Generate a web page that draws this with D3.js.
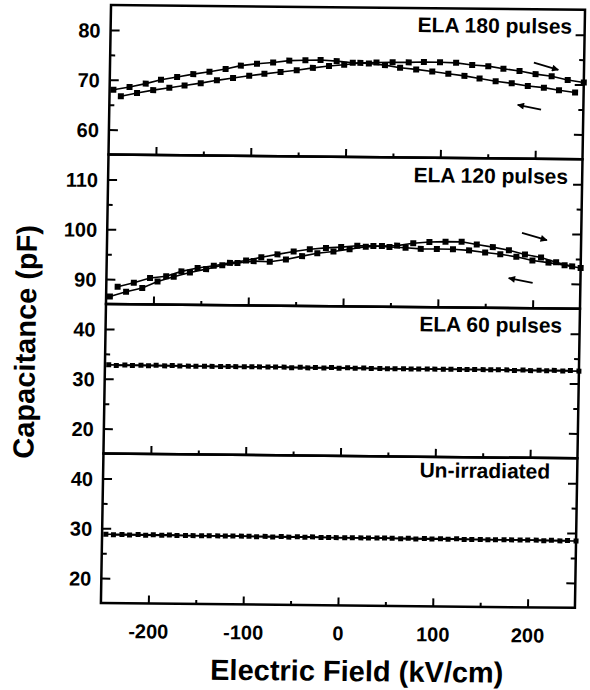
<!DOCTYPE html>
<html><head><meta charset="utf-8">
<script src="https://cdn.jsdelivr.net/npm/d3@7"></script>
<style>
html,body{margin:0;padding:0;background:#fff;}
svg text{font-family:"Liberation Sans",Arial,Helvetica,sans-serif;font-weight:bold;fill:#000;}
</style></head><body>
<svg id="chart" width="590" height="690"></svg>
<script>
// ---- data ----
const fieldA = [-246,-229,-212,-196,-179,-162,-145,-128,-112,-95,-78,-61,-44,-28,-11,6,23,40,56,73,90,107,124,140,157,174,191,208,224,241];
const fieldB = [-238,-221,-204,-187,-171,-154,-137,-120,-103,-87,-70,-53,-36,-19,-3,14,31,48,65,81,98,115,132,149,165,182,199,216,233,250];

const ela180Down = [68.0,68.6,69.3,70.1,70.7,71.3,71.8,72.4,73.1,73.5,73.8,74.2,74.3,74.4,74.2,73.9,73.8,73.5,73.0,72.7,72.3,71.9,71.5,71.0,70.5,70.1,69.6,69.3,68.8,68.4];
const ela180Up   = [66.7,67.4,68.0,68.5,69.0,69.5,70.1,70.6,71.1,71.5,71.9,72.3,72.8,73.2,73.5,73.9,74.0,74.1,74.1,74.2,74.2,74.1,73.7,73.5,73.0,72.6,72.0,71.6,70.9,70.4];

const ela120Up   = [86.5,87.5,88.3,89.6,90.6,91.5,92.2,93.0,93.5,93.9,93.8,94.3,95.0,95.6,96.0,96.5,97.0,97.2,97.3,97.8,98.1,98.2,98.2,97.7,97.2,96.6,95.8,95.2,94.3,93.5];
const ela120Down = [88.5,89.3,90.3,90.7,91.7,92.4,92.9,93.5,94.0,94.7,95.3,95.9,96.4,96.7,96.9,97.2,97.2,97.0,96.9,96.7,96.7,96.7,96.5,96.1,95.8,95.3,94.6,94.2,93.7,93.2];

const ela60Up    = [32.8,32.8,32.8,32.8,32.8,32.7,32.7,32.7,32.7,32.7,32.7,32.7,32.7,32.7,32.7,32.7,32.7,32.6,32.6,32.6,32.6,32.6,32.6,32.6,32.6,32.6,32.6,32.6,32.6,32.6];
const ela60Down  = [32.7,32.7,32.7,32.7,32.7,32.7,32.7,32.7,32.7,32.7,32.7,32.6,32.6,32.6,32.6,32.6,32.6,32.6,32.6,32.6,32.6,32.6,32.6,32.6,32.6,32.5,32.5,32.5,32.5,32.5];

const unirrUp    = [28.8,28.8,28.8,28.8,28.8,28.7,28.7,28.7,28.7,28.7,28.7,28.7,28.7,28.7,28.6,28.6,28.6,28.6,28.6,28.6,28.6,28.6,28.6,28.5,28.5,28.5,28.5,28.5,28.5,28.5];
const unirrDown  = [28.7,28.7,28.7,28.7,28.7,28.7,28.7,28.7,28.7,28.6,28.6,28.6,28.6,28.6,28.6,28.6,28.6,28.6,28.5,28.5,28.5,28.5,28.5,28.5,28.5,28.5,28.5,28.4,28.4,28.4];

const panelLabels = ["ELA 180 pulses","ELA 120 pulses","ELA 60 pulses","Un-irradiated"];
const yDomains = [[55,85],[85,115],[15,45],[15,45]];
const yMajorTicks = [[60,70,80],[90,100,110],[20,30,40],[20,30,40]];
const yMinorTicks = [[65,75],[95,105],[25,35],[25,35]];
const xDomain = [-250,250];
const xMajorTicks = [-200,-100,0,100,200];
const xMinorTicks = [-150,-50,50,150];
const xTitle = "Electric Field (kV/cm)";
const yTitle = "Capacitance (pF)";

// sweep arrows, in data units: [fromField, fromCap, toField, toCap]
const arrows180 = [[197,74.3,222.9,72.9],[205.4,64.9,180.7,65.8]];
const arrows120 = [[187.5,100.1,213.9,98.7],[199.6,90.1,174.3,91.0]];

const panels = [
  {label: panelLabels[0], series: [{f: fieldA, c: ela180Down}, {f: fieldB, c: ela180Up}], arrows: arrows180},
  {label: panelLabels[1], series: [{f: fieldA, c: ela120Up}, {f: fieldB, c: ela120Down}], arrows: arrows120},
  {label: panelLabels[2], series: [{f: fieldA, c: ela60Up}, {f: fieldB, c: ela60Down}], arrows: []},
  {label: panelLabels[3], series: [{f: fieldA, c: unirrUp}, {f: fieldB, c: unirrDown}], arrows: []}
];

// ---- layout ----
const L = 106, R = 580, T = 7.4, PH = 149.5, W = R - L;
const labelPos = [[12.6,24],[14.1,24.6],[17.5,24.1],[27,20.6]];
const markerSize = [6,6,5,5];
const plain = d => String(d);   // hyphen-minus like the original

const svg = d3.select("#chart");
const defs = svg.append("defs");
defs.append("marker").attr("id","ah").attr("markerUnits","userSpaceOnUse")
  .attr("viewBox","0 0 10 10").attr("refX",9).attr("refY",5)
  .attr("markerWidth",9).attr("markerHeight",7).attr("orient","auto")
  .append("path").attr("d","M0,0 L10,5 L0,10 z").attr("fill","#000");

// slight scan skew of the original figure
const root = svg.append("g").attr("transform","matrix(1,0.0102,-0.0169,1,5.15,-3.49)");

const x = d3.scaleLinear().domain(xDomain).range([0, W]);

panels.forEach((p, i) => {
  const g = root.append("g").attr("transform", `translate(${L},${T + i * PH})`);
  const y = d3.scaleLinear().domain(yDomains[i]).range([PH, 0]);

  const tickAxes = [
    [d3.axisTop(x).tickValues(xMajorTicks).tickSize(8), `translate(0,${PH})`],
    [d3.axisTop(x).tickValues(xMinorTicks).tickSize(4), `translate(0,${PH})`],
    [d3.axisRight(y).tickValues(yMajorTicks[i]).tickSize(9), null],
    [d3.axisRight(y).tickValues(yMinorTicks[i]).tickSize(5), null],
    [d3.axisLeft(y).tickValues(yMajorTicks[i]).tickSize(9), `translate(${W},0)`],
    [d3.axisLeft(y).tickValues(yMinorTicks[i]).tickSize(5), `translate(${W},0)`]
  ];
  tickAxes.forEach(([ax, tr]) => {
    const a = g.append("g").call(ax.tickFormat(""));
    if (tr) a.attr("transform", tr);
    a.select(".domain").remove();
    a.selectAll("line").attr("stroke", "#000").attr("stroke-width", 2);
  });

  // y tick labels
  const yl = g.append("g").call(d3.axisLeft(y).tickValues(yMajorTicks[i]).tickFormat(plain).tickSize(0).tickPadding(10));
  yl.select(".domain").remove();
  yl.attr("font-size", null).attr("font-family", null);
  yl.selectAll("text").style("font-size", "20px").attr("dy", "0.36em");

  if (i === panels.length - 1) {
    const xl = g.append("g").attr("transform", `translate(0,${PH})`)
      .call(d3.axisBottom(x).tickValues(xMajorTicks).tickFormat(plain).tickSize(0).tickPadding(0));
    xl.select(".domain").remove();
    xl.attr("font-size", null).attr("font-family", null);
    xl.selectAll("text").style("font-size", "20px").attr("dy", null).attr("y", 35);
  }

  // data
  const line = d3.line().x(d => x(d[0])).y(d => y(d[1]));
  p.series.forEach(s => {
    const pts = s.f.map((f, k) => [f, s.c[k]]);
    g.append("path").attr("d", line(pts)).attr("fill", "none")
      .attr("stroke", "#000").attr("stroke-width", 1.6);
    const ms = markerSize[i];
    g.selectAll(null).data(pts).enter().append("rect")
      .attr("x", d => x(d[0]) - ms / 2).attr("y", d => y(d[1]) - ms / 2)
      .attr("width", ms).attr("height", ms).attr("fill", "#000");
  });

  p.arrows.forEach(a => {
    g.append("line").attr("x1", x(a[0])).attr("y1", y(a[1]))
      .attr("x2", x(a[2])).attr("y2", y(a[3]))
      .attr("stroke", "#000").attr("stroke-width", 1.8).attr("marker-end", "url(#ah)");
  });

  // frame
  g.append("rect").attr("x", 0).attr("y", 0).attr("width", W).attr("height", PH)
    .attr("fill", "none").attr("stroke", "#000").attr("stroke-width", 2.5);

  g.append("text").attr("x", W - labelPos[i][0]).attr("y", labelPos[i][1])
    .attr("text-anchor", "end").style("font-size", "21px").text(p.label);
});

root.append("text").attr("x", 363).attr("y", 681).attr("text-anchor", "middle")
  .style("font-size", "29px").text(xTitle);
root.append("text").attr("transform", "translate(36,345) rotate(-90)")
  .attr("text-anchor", "middle").style("font-size", "29px").text(yTitle);
</script>
</body></html>
